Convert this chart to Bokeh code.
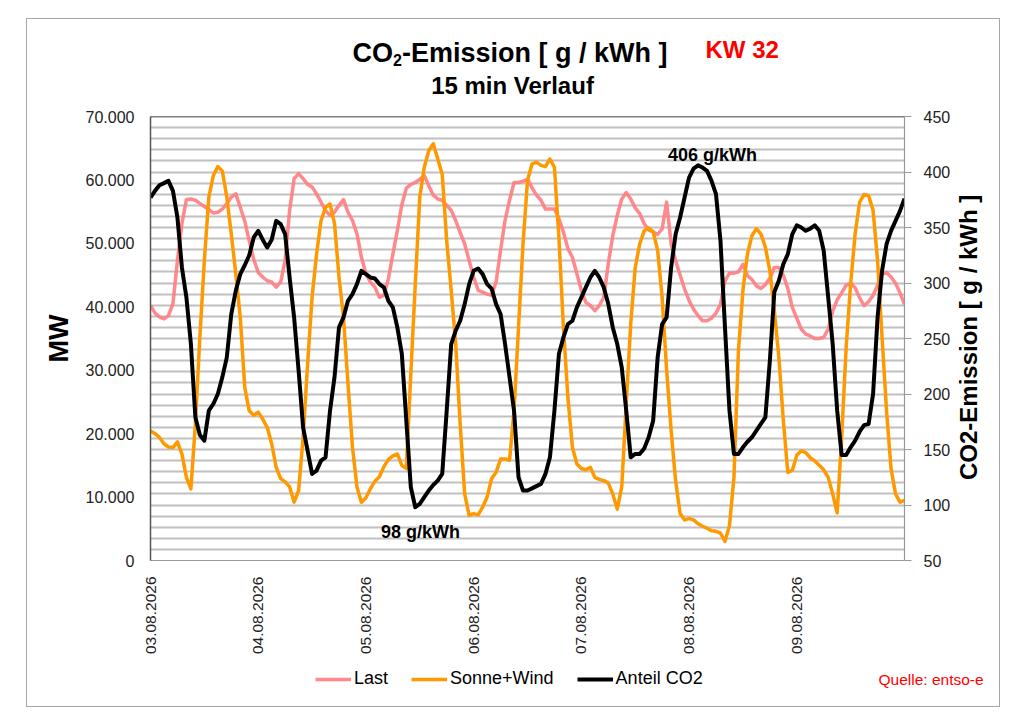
import math
from bokeh.plotting import figure
from bokeh.layouts import column
from bokeh.models import (Range1d, LinearAxis, FixedTicker, Label, Legend, LegendItem,
                          Span, ColumnDataSource, InlineStyleSheet)
from bokeh.embed import file_html
from bokeh.resources import INLINE

# ---------------- data (hourly readings, 03.08.2026 00:00 .. 10.08.2026 00:00) -------------
HOURS = list(range(169))

LAST_MW = [
    40200, 39000, 38400, 38100, 38600, 40500, 47300, 53100, 56900, 57000, 56800, 56300,
    55800, 55300, 54800, 54900, 55400, 56200, 57300, 57800, 55700, 53500, 50400, 47500,
    45400, 44700, 44100, 43900, 43100, 43900, 47300, 55200, 60200, 61000, 60200, 59300,
    58900, 57800, 56500, 55200, 54400, 54900, 56000, 56900, 54900, 53600, 51500, 47800,
    45200, 43900, 43100, 41500, 41800, 44400, 48300, 52000, 56100, 58700, 59300, 59600,
    60100, 60700, 59100, 57600, 57000, 56800, 56000, 55200, 53600, 51700, 49900, 47300,
    44700, 42600, 42300, 42000, 41800, 43900, 48900, 53600, 56800, 59600, 59600, 59800,
    60100, 58800, 57600, 56800, 55400, 55400, 55400, 53900, 51800, 49200, 47800, 45200,
    42600, 40700, 40200, 39400, 40200, 41500, 46800, 51200, 54400, 57000, 58000, 57000,
    55600, 54700, 53100, 52100, 51800, 51400, 52300, 56500, 49900, 47300, 45000, 42800,
    41000, 39600, 38600, 37800, 37800, 38200, 39000, 40400, 44100, 45300, 45300, 45500,
    46700, 44900, 44300, 43300, 42900, 43500, 44500, 46200, 46200, 45000, 42900, 39900,
    38200, 36500, 35700, 35400, 35000, 35000, 35200, 36500, 39300, 41100, 42200, 43400,
    43700, 43000, 41400, 40200, 40800, 41800, 43400, 45200, 45400, 44700, 43700, 42200,
    40400,
]

SONNE_WIND_MW = [
    20400, 20000, 19400, 18400, 17900, 17800, 18700, 16800, 13100, 11300, 21500, 35200,
    47300, 57300, 60700, 62100, 61400, 57300, 51500, 45200, 38400, 27300, 23600, 22900,
    23400, 22300, 21000, 18400, 14700, 12900, 12400, 11600, 9200, 11000, 19400, 30900,
    41500, 48300, 53600, 55700, 56200, 53100, 44700, 38400, 27900, 17900, 11600, 9200,
    9900, 11300, 12500, 13200, 14800, 15900, 16500, 16800, 15000, 14500, 29400, 43600,
    57300, 62000, 64600, 65700, 63300, 60900, 50400, 42600, 34200, 21500, 10500, 7100,
    7400, 7200, 8400, 10000, 12900, 13900, 16000, 16000, 15800, 23600, 36800, 49900,
    59900, 62500, 62800, 62300, 62100, 63300, 62000, 50900, 36800, 25700, 17900, 15200,
    14500, 14300, 14700, 13100, 12800, 12600, 12200, 10500, 8100, 11600, 24700, 37300,
    46200, 49900, 52000, 52400, 51800, 48900, 41500, 30000, 20500, 12600, 7400, 6400,
    6600, 6400, 5800, 5400, 5100, 4700, 4600, 4300, 3000, 5500, 13100, 33100,
    42600, 48300, 51200, 52300, 51500, 49400, 45700, 39400, 32100, 22100, 13900, 14200,
    16600, 17300, 17000, 16200, 15700, 15000, 14300, 13100, 10500, 7500, 19400, 33600,
    43600, 51500, 56500, 57700, 57500, 55200, 47300, 35200, 23600, 14500, 10500, 9200,
    9500,
]

CO2_G_KWH = [
    377, 383, 388, 390, 392, 383, 359, 314, 287, 245, 179, 163,
    158, 185, 191, 200, 215, 233, 272, 293, 308, 316, 325, 341,
    347, 339, 332, 339, 356, 353, 344, 305, 269, 221, 170, 149,
    128, 131, 140, 143, 185, 215, 260, 269, 284, 290, 299, 311,
    308, 305, 304, 299, 296, 284, 278, 260, 236, 176, 116, 98,
    101, 107, 113, 118, 122, 128, 185, 245, 257, 266, 281, 299,
    311, 313, 308, 299, 295, 281, 272, 245, 215, 185, 125, 113,
    113, 115, 117, 119, 128, 143, 185, 236, 251, 263, 266, 278,
    287, 296, 305, 311, 305, 296, 281, 260, 245, 224, 185, 143,
    146, 146, 151, 161, 176, 233, 263, 269, 314, 344, 359, 377,
    395, 403, 406, 404, 401, 392, 380, 338, 260, 185, 146, 146,
    152, 157, 161, 167, 173, 179, 230, 292, 302, 317, 326, 344,
    352, 350, 347, 349, 352, 347, 329, 287, 245, 185, 145, 145,
    152, 158, 166, 172, 173, 200, 269, 311, 335, 347, 356, 365,
    376,
]

DAY_TICKS = [0, 24, 48, 72, 96, 120, 144]
DAY_LABELS = ["03.08.2026", "04.08.2026", "05.08.2026", "06.08.2026",
              "07.08.2026", "08.08.2026", "09.08.2026"]
MW_TICKS = [0, 10000, 20000, 30000, 40000, 50000, 60000, 70000]
MW_TICK_LABELS = ["0", "10.000", "20.000", "30.000", "40.000", "50.000", "60.000", "70.000"]
CO2_TICKS = [50, 100, 150, 200, 250, 300, 350, 400, 450]
SERIES_NAMES = ["Last", "Sonne+Wind", "Anteil CO2"]
SERIES_COLORS = ["#ff7c80", "#ff9900", "black"]
SERIES_ALPHAS = [0.9, 1.0, 1.0]
SERIES_WIDTHS = [3.5, 3.5, 4]
SOURCE_NOTE = "Quelle: entso-e"

FONT = "Liberation Sans"
W = 972            # inner width of the framed chart
H_HEAD = 85        # title strip
H_MAIN = 556       # plot strip
H_FOOT = 46        # legend strip
TOP = 19           # page y of the strip stack
FRAME_L, FRAME_R = 150, 904   # page x of the (aligned) plot frames
HEAD_DY = -9

src = ColumnDataSource(dict(t=HOURS, last=LAST_MW, sw=SONNE_WIND_MW, co2=CO2_G_KWH))


def strip(height, y0):
    f = figure(width=W, height=height, output_backend="svg", toolbar_location=None,
               title=None, x_axis_type=None, y_axis_type=None,
               x_range=Range1d(FRAME_L, FRAME_R), y_range=Range1d(y0 + height, y0),
               min_border=0)
    f.outline_line_color = None
    f.grid.visible = False
    f.background_fill_color = "white"
    f.border_fill_color = "white"
    return f


def lab(fig, text, x, y, size, color="black", bold=True, align="left"):
    fig.add_layout(Label(x=x, y=y, text=text, text_font=FONT,
                         text_font_size=size, text_color=color,
                         text_font_style="bold" if bold else "normal",
                         text_align=align, text_baseline="alphabetic"))


# ---------------- title strip (coordinates = page pixels) ----------------
head = strip(H_HEAD, TOP)
lab(head, "CO", 352, 61 + HEAD_DY, "27px")
lab(head, "2", 392.5, 68 + HEAD_DY, "16px")
lab(head, "-Emission [ g / kWh ]", 401.5, 61 + HEAD_DY, "27px")
lab(head, "KW 32", 705, 58 + HEAD_DY, "24px", color="#ff0000")
lab(head, "15 min Verlauf", 512, 94 + HEAD_DY, "24px", align="center")

# ---------------- main plot ----------------
p = figure(width=W, height=H_MAIN, output_backend="svg", toolbar_location=None,
           title=None,
           x_range=Range1d(0, 168), y_range=Range1d(0, 70000),
           min_border_left=123, min_border_right=95,
           min_border_top=12, min_border_bottom=100)
p.extra_y_ranges = {"co2": Range1d(50, 450)}
p.outline_line_color = None
p.background_fill_color = "white"
p.border_fill_color = "white"

# grid lines every 10 g/kWh on the right scale (= 1750 MW on the left scale)
p.xgrid.visible = False
p.ygrid.ticker = FixedTicker(ticks=[i * 1750 for i in range(41)])
p.ygrid.grid_line_color = "#c0c0c0"
p.ygrid.grid_line_width = 2

p.line("t", "last", source=src, line_color=SERIES_COLORS[0], line_alpha=SERIES_ALPHAS[0],
       line_width=SERIES_WIDTHS[0], line_join="round")
p.line("t", "sw", source=src, line_color=SERIES_COLORS[1], line_alpha=SERIES_ALPHAS[1],
       line_width=SERIES_WIDTHS[1], line_join="round")
p.line("t", "co2", source=src, y_range_name="co2", line_color=SERIES_COLORS[2],
       line_alpha=SERIES_ALPHAS[2], line_width=SERIES_WIDTHS[2], line_join="round")


def px_t(px):
    return (px - FRAME_L) / (FRAME_R - FRAME_L) * 168


def px_g(py):
    return 50 + (560 - py) * 400 / 444


# annotations of extremes (inside the plot area)
for txt, xx, yy in (("406 g/kWh", 712, 154), ("98 g/kWh", 420, 531)):
    p.add_layout(Label(x=px_t(xx), y=px_g(yy), y_range_name="co2", text=txt,
                       text_font=FONT, text_font_size="18px", text_font_style="bold",
                       text_color="black", text_align="center", text_baseline="alphabetic"))

# left axis
ax_l = p.yaxis[0]
ax_l.ticker = FixedTicker(ticks=MW_TICKS)
ax_l.major_label_overrides = dict(zip(MW_TICKS, MW_TICK_LABELS))
ax_l.major_tick_out = 0
ax_l.major_tick_in = 0
ax_l.minor_tick_out = 0
ax_l.minor_tick_in = 0
ax_l.axis_line_color = "#555555"
ax_l.axis_line_width = 1.5
ax_l.major_label_standoff = 16
ax_l.major_label_text_font = FONT
ax_l.major_label_text_font_size = "16px"
ax_l.major_label_text_color = "#222222"
ax_l.axis_label = "MW"
ax_l.axis_label_text_font = FONT
ax_l.axis_label_text_font_size = "27px"
ax_l.axis_label_text_font_style = "bold"
ax_l.axis_label_text_color = "black"
ax_l.axis_label_standoff = 9

# right axis
ax_r = LinearAxis(y_range_name="co2", ticker=FixedTicker(ticks=CO2_TICKS))
ax_r.major_tick_out = 7
ax_r.major_tick_in = 0
ax_r.minor_tick_out = 0
ax_r.minor_tick_in = 0
ax_r.axis_line_color = "#999999"
ax_r.axis_line_width = 1.2
ax_r.major_tick_line_color = "#999999"
ax_r.major_label_standoff = 12
ax_r.major_label_text_font = FONT
ax_r.major_label_text_font_size = "16px"
ax_r.major_label_text_color = "#222222"
p.add_layout(ax_r, "right")

# right axis title (bottom-to-top text), drawn as the single label of an outer guide axis
RIGHT_TITLE = "CO2-Emission [ g / kWh ]"
right_title_at = round(px_g(299))
ax_r2 = LinearAxis(y_range_name="co2", ticker=FixedTicker(ticks=[right_title_at]))
ax_r2.major_label_overrides = {right_title_at: RIGHT_TITLE}
ax_r2.major_label_orientation = math.pi / 2
ax_r2.axis_line_color = None
ax_r2.major_tick_out = 0
ax_r2.major_tick_in = 0
ax_r2.minor_tick_out = 0
ax_r2.minor_tick_in = 0
ax_r2.major_label_standoff = 15
ax_r2.major_label_text_font = FONT
ax_r2.major_label_text_font_size = "24px"
ax_r2.major_label_text_font_style = "bold"
ax_r2.major_label_text_color = "black"
p.add_layout(ax_r2, "right")

# x axis
ax_x = p.xaxis[0]
ax_x.ticker = FixedTicker(ticks=DAY_TICKS)
ax_x.major_label_overrides = dict(zip(DAY_TICKS, DAY_LABELS))
ax_x.major_label_orientation = math.pi / 2
ax_x.major_tick_out = 0
ax_x.major_tick_in = 0
ax_x.minor_tick_out = 0
ax_x.minor_tick_in = 0
ax_x.axis_line_color = "#999999"
ax_x.axis_line_width = 1.2
ax_x.major_label_standoff = 16
ax_x.major_label_text_font = FONT
ax_x.major_label_text_font_size = "15.5px"
ax_x.major_label_text_color = "#222222"

p.add_layout(Span(location=70000, dimension="width", line_color="black", line_width=1.5))

# ---------------- legend strip (coordinates = page pixels) ----------------
foot_y0 = TOP + H_HEAD + H_MAIN
foot = strip(H_FOOT, foot_y0)
# the same series, drawn far outside this strip's range; they only feed the legend samples
samples = [foot.line("t", col, source=src, line_color=c, line_alpha=a, line_width=w)
           for col, c, a, w in zip(["last", "sw", "co2"], SERIES_COLORS, SERIES_ALPHAS,
                                   SERIES_WIDTHS)]
legend = Legend(items=[LegendItem(label=n, renderers=[r]) for n, r in zip(SERIES_NAMES, samples)],
                orientation="horizontal",
                location=(315 - FRAME_L, foot_y0 + H_FOOT - 689),
                label_text_font=FONT, label_text_font_size="18px",
                label_text_color="black",
                glyph_width=36, glyph_height=20, label_height=20,
                label_standoff=3, spacing=23, padding=0, margin=0,
                border_line_color=None, background_fill_alpha=0)
foot.add_layout(legend)

# source note: single label of a guide axis at the right edge of the strip
note_at = 679
ax_note = LinearAxis(ticker=FixedTicker(ticks=[note_at]))
ax_note.major_label_overrides = {note_at: SOURCE_NOTE}
ax_note.axis_line_color = None
ax_note.major_tick_out = 0
ax_note.major_tick_in = 0
ax_note.minor_tick_out = 0
ax_note.minor_tick_in = 0
ax_note.major_label_text_font = FONT
ax_note.major_label_text_font_size = "15.5px"
ax_note.major_label_text_color = "#ff0000"
try:
    ax_note.major_label_standoff = 878 - FRAME_R
except Exception:
    ax_note.major_label_standoff = 0
foot.add_layout(ax_note, "right")

page = column(head, p, foot, spacing=0)
page.margin = (18, 0, 0, 26)
page.stylesheets.append(InlineStyleSheet(css=":host { border: 1px solid #a6a6a6; background: white; }"))

open("out.html", "w").write(file_html(page, INLINE))
